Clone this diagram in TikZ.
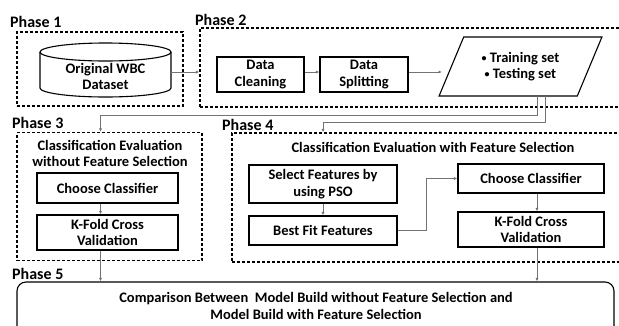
\documentclass[tikz,border=0pt]{standalone}
\usepackage{fontspec}
\setmainfont{Carlito}
\usetikzlibrary{shapes.geometric,arrows.meta}

\newcommand{\dotitem}{{\fontsize{10}{10}\selectfont\raisebox{1pt}{•}}\ }

\begin{document}
\begin{tikzpicture}[x=1pt,y=-1pt,font=\bfseries\fontsize{14.5}{16.5}\selectfont,
        >={Latex[length=3.5pt,width=3pt]}]
        \tikzstyle{phase}=[draw=black,dashed,dash pattern=on 3pt off 2pt,line width=1.1pt,inner sep=0pt]
        \tikzstyle{stage}=[draw=black,line width=1.1pt,align=center,inner sep=1pt]
        \tikzstyle{plabel}=[anchor=west,font=\bfseries\fontsize{16}{18}\selectfont,inner sep=0pt]
        \tikzstyle{link}=[->,draw=black!55,line width=0.7pt]

        \useasboundingbox (0,0) rectangle (619,325);

        % Draw the phase frames
        \node[phase,minimum width=166pt,minimum height=74pt] (P1) at (100,69) {};
        \node[phase,minimum width=430pt,minimum height=79pt] (P2) at (415,67.5) {};
        \node[phase,minimum width=185pt,minimum height=128pt] (P3) at (109.5,196.5) {};
        \node[phase,minimum width=398pt,minimum height=129pt] (P4) at (431,197.5) {};
        \node[draw=black,line width=1.1pt,rounded corners=9pt,minimum width=597pt,
              minimum height=70pt] (P5) at (315.5,317) {};

        % Phase labels
        \node[plabel] at (10,22) {Phase 1};
        \node[plabel] at (195,20) {Phase 2};
        \node[plabel] at (12,123) {Phase 3};
        \node[plabel] at (222,125) {Phase 4};
        \node[plabel] at (12,274) {Phase 5};

        % Phase 1: the dataset
        \draw[line width=1.1pt] (40,52) -- (40,88) arc (180:0:65.5 and 9) -- (171,52);
        \draw[line width=1.1pt] (105.5,52) ellipse (65.5 and 9);
        \node[align=center,minimum width=131pt,inner sep=0pt] (WBC) at (105.5,76.5)
            {Original WBC\\Dataset};

        % Phase 2: preprocessing
        \node[stage,minimum width=87pt,minimum height=35pt] (clean) at (260.5,74.5) {Data\\Cleaning};
        \node[stage,minimum width=88pt,minimum height=35pt] (split) at (364,74.5) {Data\\Splitting};
        \node[trapezium,trapezium left angle=60,trapezium right angle=120,trapezium stretches=true,
              draw=black,line width=1.1pt,minimum width=163pt,minimum height=59pt,align=center,inner sep=0pt]
            (sets) at (520.5,66.5) {\dotitem Training set\\\dotitem Testing set};

        % Phase 3: evaluation without feature selection
        \node[align=center,inner sep=0pt] (t3) at (110,153.5) {Classification Evaluation\\without Feature Selection};
        \node[stage,minimum width=141pt,minimum height=30pt] (C3) at (107.5,188) {Choose Classifier};
        \node[stage,minimum width=141pt,minimum height=35pt] (K3) at (107.5,232.5) {K-Fold Cross\\Validation};

        % Phase 4: evaluation with feature selection
        \node[inner sep=0pt] (t4) at (433,147) {Classification Evaluation with Feature Selection};
        \node[stage,minimum width=148pt,minimum height=38pt] (pso) at (323,184) {Select Features by\\using PSO};
        \node[stage,minimum width=148pt,minimum height=29pt] (best) at (323,230.5) {Best Fit Features};
        \node[stage,minimum width=146pt,minimum height=29pt] (C4) at (531,178.5) {Choose Classifier};
        \node[stage,minimum width=146pt,minimum height=35pt] (K4) at (531,229.5) {K-Fold Cross\\Validation};

        % Phase 5: comparison
        \node[align=center,inner sep=0pt] (cmp) at (316,306)
            {Comparison Between\ \ Model Build without Feature Selection and\\Model Build with Feature Selection};

        % Connect the stages
        \draw[link] (WBC.east |- 0,72) -- (P2.west |- 0,72);
        \draw[link] (clean.east |- 0,72) -- (split.west |- 0,72);
        \draw[link] (split.east |- 0,72) -- (442,72);
        \draw[link] (537,96) -- (537,115) -| ([xshift=-9pt]P3.north);
        \draw[link] (545,96) -- (545,122) -| (pso.north |- P4.north);
        \draw[link] ([xshift=-7pt]C3.south) -- ([xshift=-7pt]K3.north);
        \draw[link] ([xshift=-7pt]K3.south) -- ([xshift=-7pt]K3.south |- P5.north);
        \draw[link] (pso) -- (best);
        \draw[link] (best.east) -- (426,230.5) |- (C4.west);
        \draw[link] ([xshift=6pt]C4.south) -- ([xshift=6pt]K4.north);
        \draw[link] ([xshift=6pt]K4.south) -- ([xshift=6pt]K4.south |- P5.north);
\end{tikzpicture}
\end{document}
